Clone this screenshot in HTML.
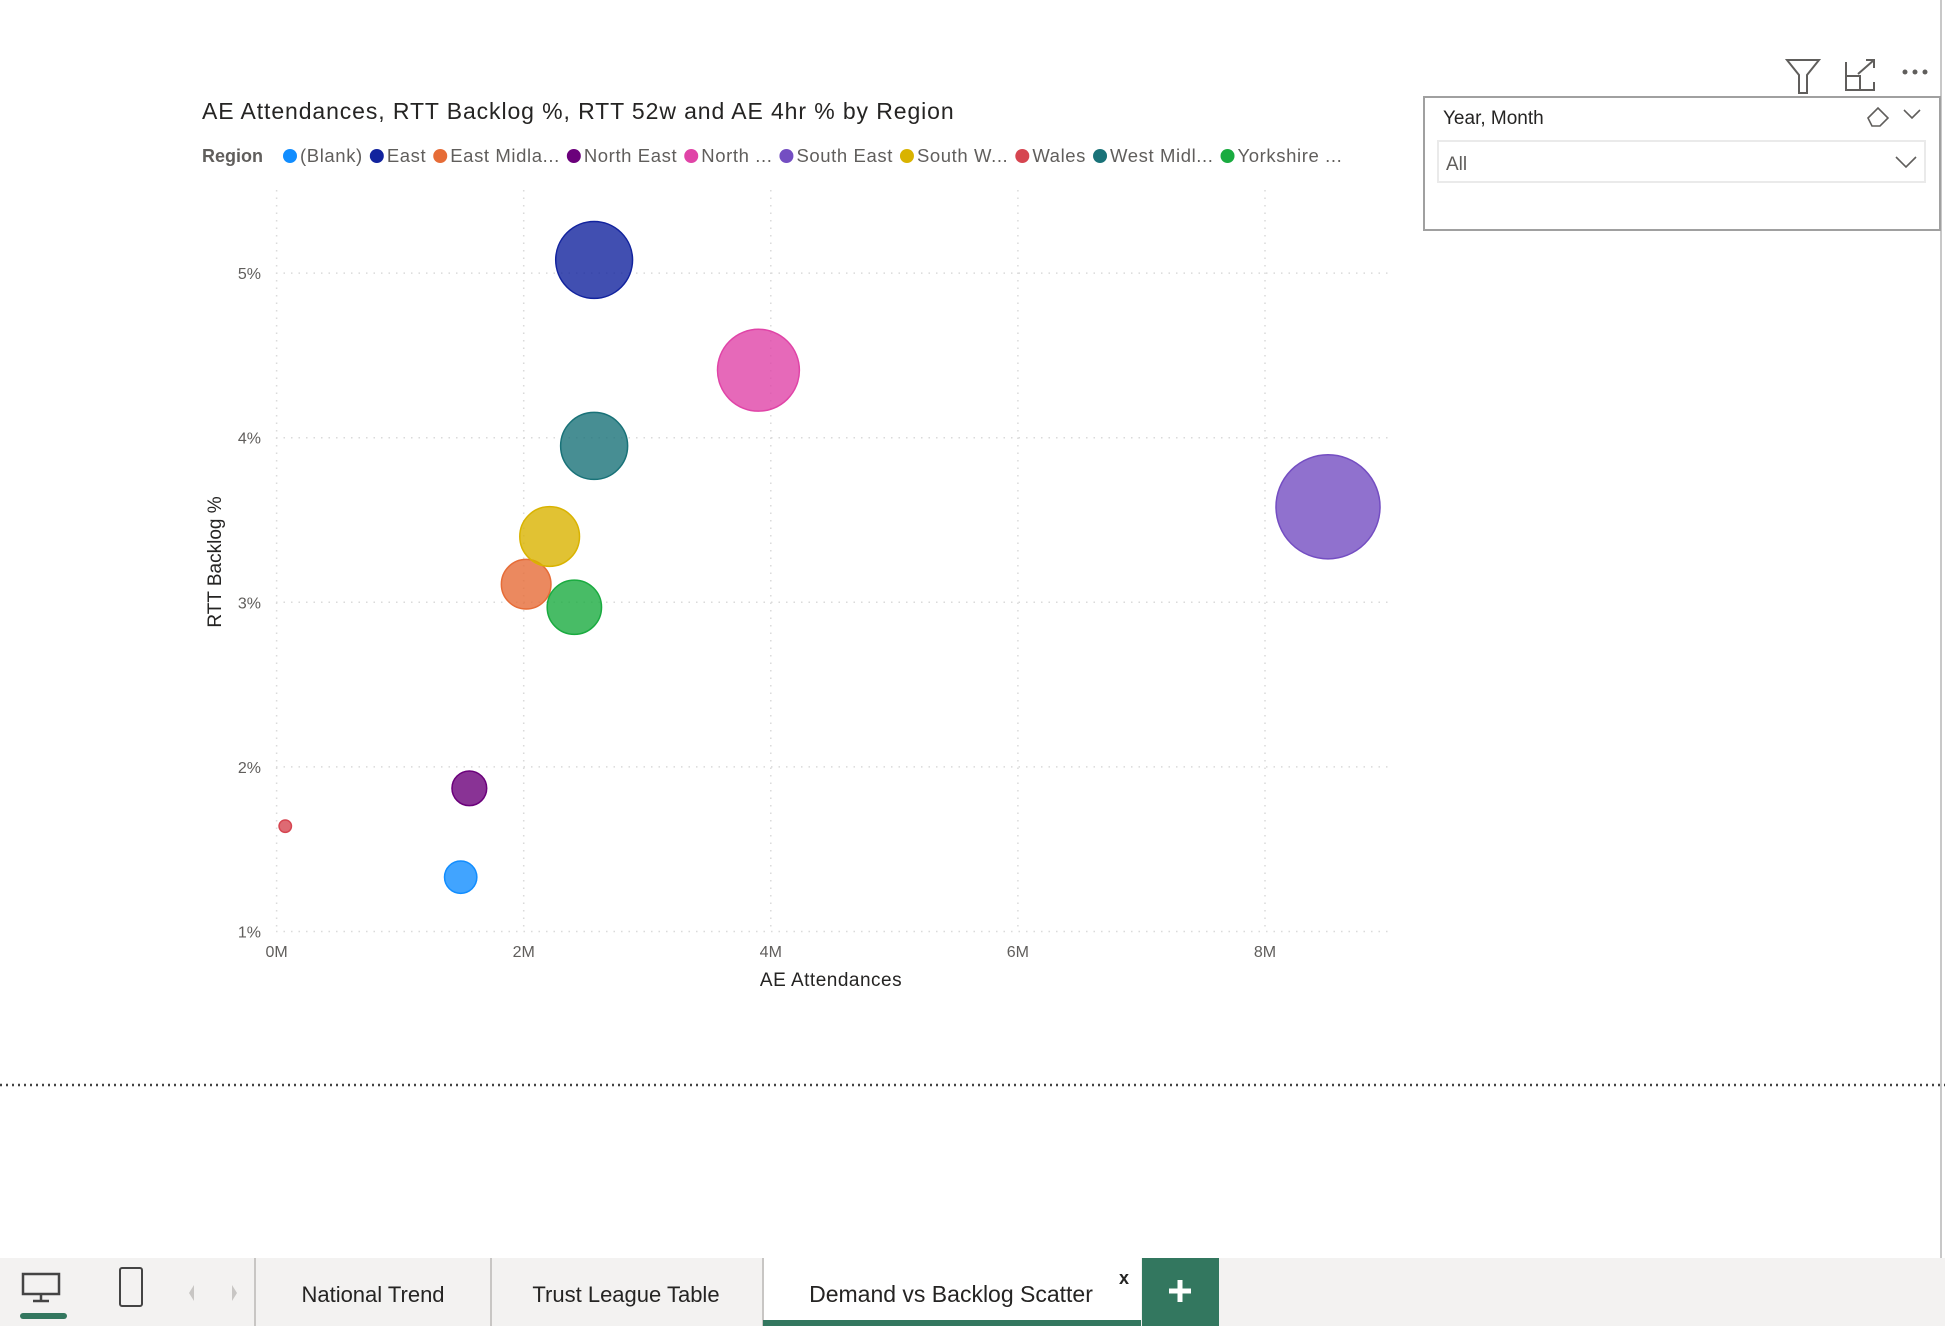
<!DOCTYPE html>
<html><head><meta charset="utf-8"><style>
html,body{margin:0;padding:0;background:#fff;width:1945px;height:1326px;overflow:hidden;font-family:"Liberation Sans",sans-serif}
</style></head><body>
<svg id="page" width="1945" height="1326" xmlns="http://www.w3.org/2000/svg" font-family="Liberation Sans, sans-serif">
<line x1="1941" y1="0" x2="1941" y2="1258" stroke="#c8c8c8" stroke-width="2"/>
<text x="202" y="119" font-size="23" letter-spacing="0.9" fill="#252423">AE Attendances, RTT Backlog %, RTT 52w and AE 4hr % by Region</text>
<g id="legend"><text x="202" y="162" font-size="18" font-weight="bold" fill="#605e5c">Region</text></g>
<g id="grid"></g>
<g id="ticks"></g>
<text transform="translate(221,562) rotate(-90)" text-anchor="middle" font-size="19" fill="#252423">RTT Backlog %</text>
<text x="831" y="986" text-anchor="middle" font-size="19" letter-spacing="0.5" fill="#252423">AE Attendances</text>
<g id="bubbles"></g>
<line x1="0" y1="1085" x2="1945" y2="1085" stroke="#444" stroke-width="2.5" stroke-dasharray="2,4"/>
<g>
<path d="M1787,60 h32 l-12,15 v18 h-8 v-18 z" fill="none" stroke="#605e5c" stroke-width="2"/>
<path d="M1846,62 v28 h28 v-8 M1846,76 h14 v14 M1858,74 l16,-14 M1866,60 h8 v8" fill="none" stroke="#605e5c" stroke-width="2"/>
<g fill="#605e5c"><circle cx="1905" cy="72" r="2.5"/><circle cx="1915" cy="72" r="2.5"/><circle cx="1925" cy="72" r="2.5"/></g>
</g>
<g>
<rect x="1424" y="97" width="516" height="133" fill="#fff" stroke="#a0a0a0" stroke-width="2"/>
<text x="1443" y="124" font-size="19" fill="#252423">Year, Month</text>
<path d="M1868,118 l10,-10 l10,10 l-8,8 h-8 z" fill="none" stroke="#605e5c" stroke-width="1.6"/>
<path d="M1904,110 l8,8 l8,-8" fill="none" stroke="#605e5c" stroke-width="1.6"/>
<rect x="1438" y="141" width="487" height="41" fill="#fff" stroke="#eaeaea" stroke-width="2"/>
<text x="1446" y="170" font-size="19" fill="#605e5c">All</text>
<path d="M1896,157 l10,10 l10,-10" fill="none" stroke="#605e5c" stroke-width="1.6"/>
</g>
<g>
<rect x="0" y="1258" width="1945" height="68" fill="#f3f2f1"/>
<path d="M23,1274 h36 v20 h-36 z M41,1294 v6 M33,1301 h16" fill="none" stroke="#444" stroke-width="2.5"/>
<rect x="20" y="1313" width="47" height="6" rx="3" fill="#33775f"/>
<rect x="120" y="1268" width="22" height="38" rx="2" fill="none" stroke="#444" stroke-width="2"/>
<path d="M194,1285 l-5,8 l5,8 z" fill="#c8c6c4"/>
<path d="M232,1285 l5,8 l-5,8 z" fill="#c8c6c4"/>
<line x1="255" y1="1258" x2="255" y2="1326" stroke="#c8c6c4" stroke-width="2"/>
<text x="373" y="1302" text-anchor="middle" font-size="22" fill="#252423">National Trend</text>
<line x1="491" y1="1258" x2="491" y2="1326" stroke="#c8c6c4" stroke-width="2"/>
<text x="626" y="1302" text-anchor="middle" font-size="22" fill="#252423">Trust League Table</text>
<rect x="763" y="1258" width="378" height="68" fill="#fff"/>
<line x1="763" y1="1258" x2="763" y2="1326" stroke="#c8c6c4" stroke-width="2"/>
<rect x="763" y="1320" width="378" height="6" fill="#33775f"/>
<text x="951" y="1302" text-anchor="middle" font-size="23" fill="#252423">Demand vs Backlog Scatter</text>
<text x="1124" y="1284" text-anchor="middle" font-size="18" font-weight="bold" fill="#252423">x</text>
<rect x="1142" y="1258" width="77" height="68" fill="#33775f"/>
<path d="M1180,1280 v22 M1169,1291 h22" stroke="#fff" stroke-width="5"/>
</g>
</svg>
<script>
const regions=["(Blank)","East","East Midla...","North East","North ...","South East","South W...","Wales","West Midl...","Yorkshire ..."];
const colors=["#118DFF","#12239E","#E66C37","#6B007B","#E044A7","#744EC2","#D9B300","#D64550","#197278","#1AAB40"];
const aeAttendances=[1.49,2.57,2.02,1.56,3.90,8.51,2.21,0.07,2.57,2.41];
const rttBacklog=[1.33,5.08,3.11,1.87,4.41,3.58,3.40,1.64,3.95,2.97];
const rtt52w=[1.7,9.6,4.0,1.96,10.9,17.6,5.8,0.25,7.3,4.8];
const xTicks=[0,2,4,6,8];
const yTicks=[1,2,3,4,5];
const NS="http://www.w3.org/2000/svg";
const x=v=>276.6+v*123.55;
const y=v=>931.5-(v-1)*164.6;
const r=v=>Math.sqrt(v)*12.4;
function mk(tag,attrs,parent,txt){const e=document.createElementNS(NS,tag);for(const k in attrs)e.setAttribute(k,attrs[k]);if(txt!==undefined)e.textContent=txt;parent.appendChild(e);return e;}
const grid=document.getElementById('grid'),ticks=document.getElementById('ticks');
xTicks.forEach(t=>{const l=mk('line',{x1:x(t),x2:x(t),y1:190,y2:931,stroke:'#dadada','stroke-width':1.5,'stroke-dasharray':'1.5,6'},grid);


const tx=mk('text',{x:x(t),y:957,'text-anchor':'middle','font-size':16,fill:'#605e5c'},ticks,t+'M');

});
yTicks.forEach(t=>{const l=mk('line',{x1:276,x2:1388,y1:y(t),y2:y(t),stroke:'#dadada','stroke-width':1.5,'stroke-dasharray':'1.5,6'},grid);


const tx=mk('text',{x:261,y:y(t)+6,'text-anchor':'end','font-size':16,fill:'#605e5c'},ticks,t+'%');

});
const bg=document.getElementById('bubbles');
regions.forEach((n,i)=>{const c=mk('circle',{cx:x(aeAttendances[i]),cy:y(rttBacklog[i]),r:r(rtt52w[i]),fill:colors[i],'fill-opacity':0.8,stroke:colors[i],'stroke-width':1.5},bg);

});
const lg=document.getElementById('legend');
let lx=290;
regions.forEach((n,i)=>{const c=mk('circle',{cx:lx,cy:156,r:7,fill:colors[i]},lg);


const t=mk('text',{x:lx+10,y:162,'font-size':18.5,'letter-spacing':0.6,fill:'#605e5c'},lg,n);


lx+=t.getComputedTextLength()+24;});
</script>
</body></html>
